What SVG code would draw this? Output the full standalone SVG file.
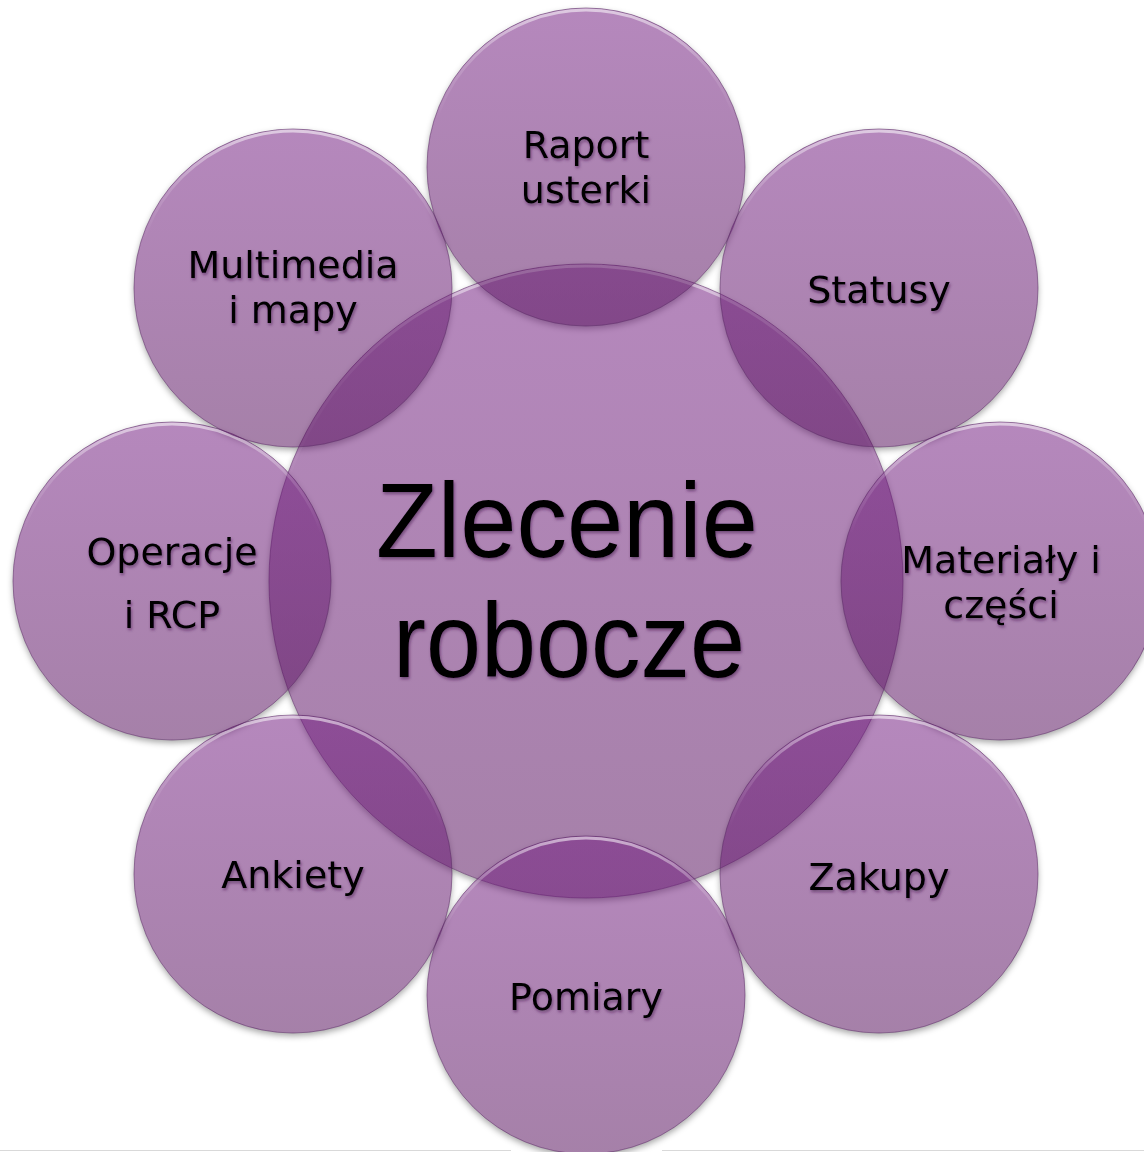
<svg xmlns="http://www.w3.org/2000/svg" width="1144" height="1152" viewBox="0 0 1144 1152">
  <defs>
    <linearGradient id="fillGrad" x1="0" y1="0" x2="0" y2="1">
      <stop offset="0" stop-color="rgb(116,30,130)" stop-opacity="0.53"/>
      <stop offset="1" stop-color="rgb(86,16,92)" stop-opacity="0.53"/>
    </linearGradient>
    <linearGradient id="rimGrad" x1="0" y1="0" x2="0" y2="1">
      <stop offset="0" stop-color="#ffffff" stop-opacity="0.55"/>
      <stop offset="0.18" stop-color="#ffffff" stop-opacity="0.15"/>
      <stop offset="0.35" stop-color="#ffffff" stop-opacity="0"/>
      <stop offset="1" stop-color="#ffffff" stop-opacity="0"/>
    </linearGradient>
    <filter id="outerShadow" x="-10%" y="-10%" width="120%" height="125%">
      <feGaussianBlur in="SourceAlpha" stdDeviation="3" result="b"/>
      <feOffset in="b" dx="0" dy="3" result="o"/>
      <feFlood flood-color="#000000" flood-opacity="0.35"/>
      <feComposite in2="o" operator="in" result="s"/>
      <feComposite in="s" in2="SourceAlpha" operator="out"/>
    </filter>
    <filter id="textShadow" x="-10%" y="-20%" width="120%" height="150%">
      <feDropShadow dx="1" dy="2" stdDeviation="1.5" flood-color="#3a0f45" flood-opacity="0.55"/>
    </filter>
    <style>
      .shadow { fill: #000; filter: url(#outerShadow); }
      .disc { fill: url(#fillGrad); stroke: rgb(90,40,100); stroke-opacity: 0.55; stroke-width: 1; }
      .rim { fill: none; stroke: url(#rimGrad); stroke-width: 3; }
      .lbl { font-family: "DejaVu Sans", "Noto Sans", sans-serif; font-size: 38px; fill: #000; text-anchor: middle; filter: url(#textShadow); }
      .big { font-family: "Liberation Sans", Arial, sans-serif; font-size: 106px; fill: #000; text-anchor: middle; filter: url(#textShadow); }
    </style>
  </defs>

  <rect width="1144" height="1152" fill="#ffffff"/>
  <line x1="0" y1="1150.5" x2="511" y2="1150.5" stroke="#d9d9d9" stroke-width="1"/>
  <line x1="662" y1="1150.5" x2="1144" y2="1150.5" stroke="#d9d9d9" stroke-width="1"/>

  <g id="shadows">
    <circle class="shadow" cx="586" cy="581" r="317"/>
    <circle class="shadow" cx="586" cy="167" r="159"/>
    <circle class="shadow" cx="879" cy="288" r="159"/>
    <circle class="shadow" cx="1000" cy="581" r="159"/>
    <circle class="shadow" cx="879" cy="874" r="159"/>
    <circle class="shadow" cx="586" cy="995" r="159"/>
    <circle class="shadow" cx="293" cy="874" r="159"/>
    <circle class="shadow" cx="172" cy="581" r="159"/>
    <circle class="shadow" cx="293" cy="288" r="159"/>
  </g>

  <g id="connectors"></g>

  <g id="center">
    <circle class="disc" cx="586" cy="581" r="317"/>
    <circle class="rim" cx="586" cy="581" r="315"/>
  </g>

  <g id="raport-usterki">
    <circle class="disc" cx="586" cy="167" r="159"/>
    <circle class="rim" cx="586" cy="167" r="157"/>
    <text class="lbl" x="586" y="158">Raport</text>
    <text class="lbl" x="586" y="203">usterki</text>
  </g>

  <g id="statusy">
    <circle class="disc" cx="879" cy="288" r="159"/>
    <circle class="rim" cx="879" cy="288" r="157"/>
    <text class="lbl" x="879" y="303">Statusy</text>
  </g>

  <g id="materialy">
    <circle class="disc" cx="1000" cy="581" r="159"/>
    <circle class="rim" cx="1000" cy="581" r="157"/>
    <text class="lbl" x="1001" y="573">Materiały i</text>
    <text class="lbl" x="1001" y="618">części</text>
  </g>

  <g id="zakupy">
    <circle class="disc" cx="879" cy="874" r="159"/>
    <circle class="rim" cx="879" cy="874" r="157"/>
    <text class="lbl" x="879" y="890">Zakupy</text>
  </g>

  <g id="pomiary">
    <circle class="disc" cx="586" cy="995" r="159"/>
    <circle class="rim" cx="586" cy="995" r="157"/>
    <text class="lbl" x="586" y="1010">Pomiary</text>
  </g>

  <g id="ankiety">
    <circle class="disc" cx="293" cy="874" r="159"/>
    <circle class="rim" cx="293" cy="874" r="157"/>
    <text class="lbl" x="293" y="888">Ankiety</text>
  </g>

  <g id="operacje">
    <circle class="disc" cx="172" cy="581" r="159"/>
    <circle class="rim" cx="172" cy="581" r="157"/>
    <text class="lbl" x="172" y="565">Operacje</text>
    <text class="lbl" x="172" y="628">i RCP</text>
  </g>

  <g id="multimedia">
    <circle class="disc" cx="293" cy="288" r="159"/>
    <circle class="rim" cx="293" cy="288" r="157"/>
    <text class="lbl" x="293" y="278">Multimedia</text>
    <text class="lbl" x="293" y="323">i mapy</text>
  </g>

  <g id="center-label">
    <text class="big" x="567" y="557" textLength="382" lengthAdjust="spacingAndGlyphs">Zlecenie</text>
    <text class="big" x="569" y="677" textLength="352" lengthAdjust="spacingAndGlyphs">robocze</text>
  </g>
</svg>
